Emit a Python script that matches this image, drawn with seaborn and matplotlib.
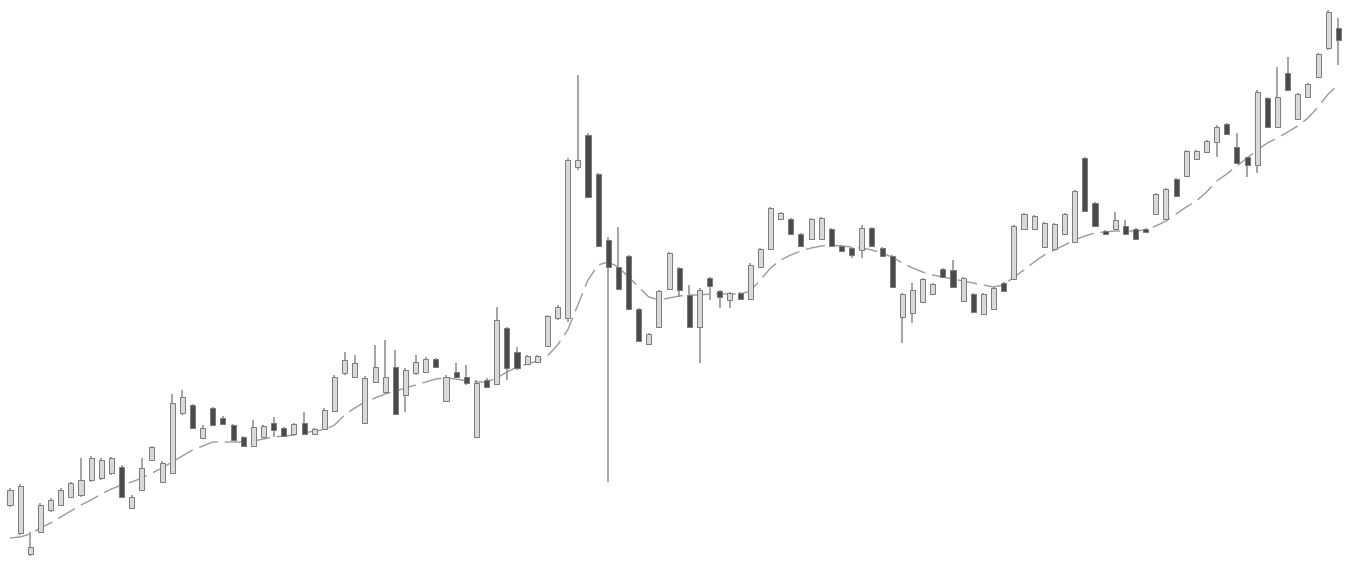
from matplotlib import pyplot as plt
import numpy as np
import pandas as pd
import seaborn as sns

# all levels, as distance from the top of the image
high = [488,484,532,503,498,488,482,458,456,458,457,465,495,458,446,461,394,390,404,425,407,416,424,436,420,425,417,427,423,412,428,408,375,
        352,355,376,345,340,350,368,355,357,358,375,363,365,380,378,307,327,347,355,355,315,305,158,75,133,173,237,227,255,308,333,290,252,
        267,285,288,277,290,292,292,263,248,207,212,218,233,218,217,228,245,247,225,227,247,255,293,283,278,283,268,260,277,293,293,287,282,
        225,213,215,222,223,213,190,157,202,230,212,220,228,228,193,188,178,150,150,140,125,123,133,157,90,97,67,57,93,83,53,10,18]
low = [507,535,556,533,512,506,498,497,482,480,475,498,509,491,461,483,474,415,429,439,426,425,441,447,447,438,437,437,435,435,435,430,412,
       375,378,424,383,393,415,412,375,373,368,402,378,385,438,388,385,380,370,365,363,347,320,322,170,198,247,482,290,310,342,345,328,290,
       297,328,363,300,308,308,300,300,268,250,220,235,247,240,240,247,252,258,258,247,257,288,343,323,303,295,278,288,302,313,315,310,292,
       280,230,230,248,250,235,243,212,227,235,230,235,240,233,215,220,197,177,160,153,157,135,163,177,173,128,128,90,120,98,78,50,65]
body_top = [490,486,547,505,500,490,483,480,458,460,458,467,497,468,447,463,403,397,405,428,408,418,425,437,427,426,423,428,424,423,429,410,377,
            360,363,378,367,377,367,370,362,359,359,377,372,377,383,380,320,328,352,356,356,316,307,160,160,135,174,240,267,256,309,334,291,253,
            268,295,290,278,291,293,293,265,249,208,213,219,234,219,218,229,246,248,228,228,248,256,294,290,279,284,269,270,278,294,294,288,283,
            226,214,216,223,224,214,191,158,203,231,220,226,229,229,194,189,179,151,151,141,127,124,147,157,92,98,97,73,94,84,54,12,28]
body_bot = [505,533,554,532,510,505,497,495,480,478,473,497,508,490,460,482,473,413,428,438,425,424,440,446,446,437,430,436,434,434,434,429,411,
            373,377,423,382,392,414,395,373,372,367,401,377,383,437,387,384,368,368,364,362,346,318,318,167,197,246,267,289,309,341,344,327,289,
            290,327,327,286,297,300,299,299,267,249,219,234,246,239,239,246,251,255,250,246,256,287,317,313,302,294,277,287,301,312,314,309,291,
            279,229,229,247,249,234,242,211,226,234,229,234,239,232,214,219,196,176,159,152,142,134,163,165,165,127,127,90,119,97,77,48,40]
is_up = [1,1,1,1,1,1,1,1,1,1,1,0,1,1,1,1,1,1,0,1,0,0,0,0,1,1,0,0,1,0,1,1,1,
         1,1,1,1,1,0,1,1,1,0,1,0,0,1,0,1,0,0,1,1,1,1,1,1,0,0,0,0,0,0,1,1,1,
         0,0,1,0,0,1,0,1,1,1,1,0,0,1,1,0,0,0,1,0,0,0,1,1,1,1,0,0,1,0,1,1,0,
         1,1,1,1,1,1,1,0,0,0,1,0,0,0,1,1,0,1,1,1,1,0,0,0,1,0,1,0,1,1,1,1,0]
avg_line = [538,537,534,528,523,517,511,505,500,494,489,485,482,478,473,468,462,456,450,446,442,442,442,442,441,439,437,436,435,433,431,430,425,
            415,408,402,398,394,391,388,385,382,379,378,379,381,382,382,378,372,367,364,361,356,345,330,305,280,265,262,267,277,287,297,300,298,
            296,295,295,294,294,294,294,291,280,268,260,255,251,248,246,245,246,247,248,250,253,257,263,268,272,275,277,279,281,283,285,287,285,
            277,270,262,255,250,245,240,236,233,232,231,231,231,230,226,221,214,207,201,192,181,174,166,158,150,143,138,132,126,118,107,94,85]

W, H = 1347, 562
first_x = 10
step_x = 10.14

sns.set_theme(style="white")
plt.rcParams['font.family'] = ['DejaVu Sans']

df = pd.DataFrame({
    'day': np.arange(len(high)),
    'high': H - np.array(high),
    'low': H - np.array(low),
    'top': H - np.array(body_top),
    'bottom': H - np.array(body_bot),
    'up': np.array(is_up) == 1,
    'avg': H - np.array(avg_line),
})

fig = plt.figure(figsize=(W / 100, H / 100), dpi=100)
ax = fig.add_axes([0, 0, 1, 1])

# the average is faint and looks broken up in the reference
sns.lineplot(data=df, x='day', y='avg', ax=ax, color='#9a9a9a', linewidth=1.0,
             linestyle=(0, (14, 5)), zorder=1)

ax.vlines(df['day'], df['low'], df['high'], color='#8c8c8c', linewidth=1.1, zorder=2)

colors = ['#d9d9d9' if u else '#4a4a4a' for u in df['up']]
ax.bar(df['day'], df['top'] - df['bottom'], bottom=df['bottom'], width=0.5,
       color=colors, edgecolor='#7a7a7a', linewidth=0.7, zorder=3)

ax.set_xlim(-first_x / step_x, (W - first_x) / step_x)
ax.set_ylim(0, H)
ax.axis('off')

fig.savefig('out.png', dpi=100)
